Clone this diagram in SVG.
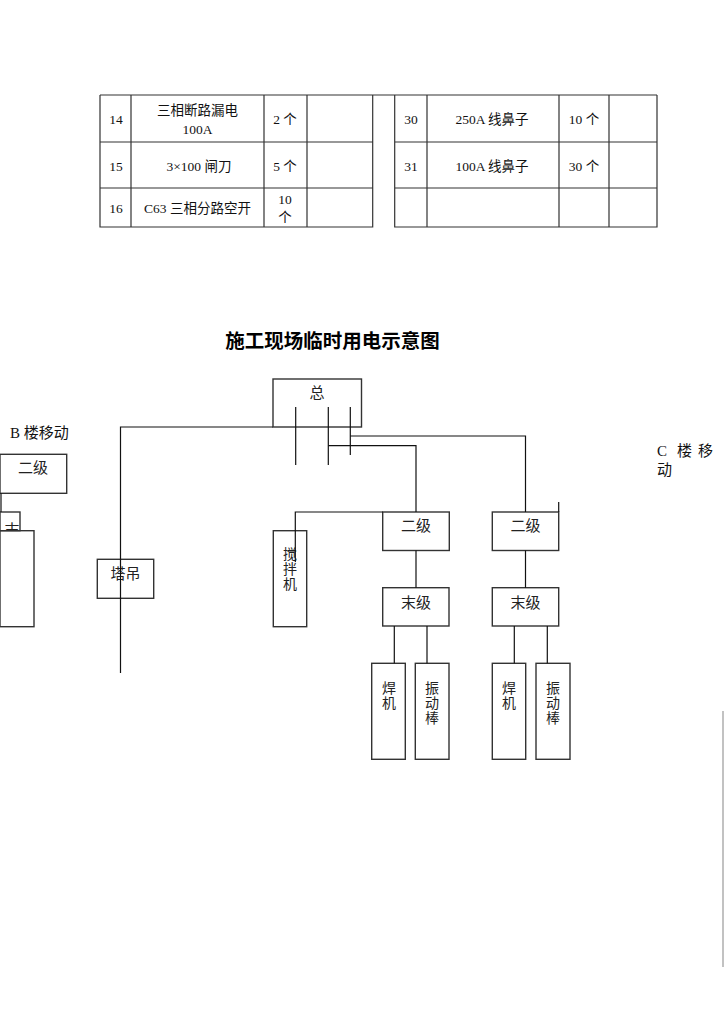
<svg xmlns="http://www.w3.org/2000/svg" width="724" height="1024" viewBox="0 0 724 1024">
<style>
.t{font-family:"Liberation Serif","Noto Sans CJK SC",serif;font-size:13.5px;fill:#111;text-anchor:middle}
.b{font-family:"Noto Sans CJK SC","Liberation Sans",sans-serif;font-size:15px;fill:#222;text-anchor:middle}
.v{font-family:"Noto Sans CJK SC","Liberation Sans",sans-serif;font-size:14px;fill:#222;writing-mode:vertical-rl;letter-spacing:1px}
.tl{stroke:#333;stroke-width:1.2;fill:none}
.box{stroke:#333;stroke-width:1.4;fill:none}
.ln{stroke:#111;stroke-width:1.2;fill:none}
</style>
<defs>
<clipPath id="c1"><rect x="0" y="512" width="20" height="18.7"/></clipPath>
</defs>
<rect width="724" height="1024" fill="#fff"/>
<g id="table">
<line class="tl" x1="100" y1="95" x2="657" y2="95"/>
<path class="tl" d="M100,95V227H372.7V95M131,95V227M264,95V227M307,95V227M100,142H372.7M100,188H372.7"/>
<path class="tl" d="M394.7,95V227H657V95M427,95V227M559,95V227M609,95V227M394.7,142H657M394.7,188H657"/>
<text class="t" x="116" y="124">14</text>
<text class="t" x="197.5" y="115">三相断路漏电</text>
<text class="t" x="197.5" y="134">100A</text>
<text class="t" x="285" y="124">2 个</text>
<text class="t" x="116" y="171">15</text>
<text class="t" x="199" y="171">3×100 闸刀</text>
<text class="t" x="285" y="171">5 个</text>
<text class="t" x="116" y="213">16</text>
<text class="t" x="197.5" y="213">C63 三相分路空开</text>
<text class="t" x="285" y="204">10<tspan x="285" dy="18">个</tspan></text>
<text class="t" x="411" y="124">30</text>
<text class="t" x="492" y="124">250A 线鼻子</text>
<text class="t" x="584" y="124">10 个</text>
<text class="t" x="411" y="171">31</text>
<text class="t" x="492" y="171">100A 线鼻子</text>
<text class="t" x="584" y="171">30 个</text>
</g>
<text x="332.5" y="348" font-family="Noto Sans CJK SC, sans-serif" font-size="19.5" font-weight="bold" text-anchor="middle" fill="#000">施工现场临时用电示意图</text>
<text x="10" y="438" font-family="Liberation Serif, Noto Sans CJK SC, serif" font-size="15" fill="#111">B 楼移动</text>
<text x="657" y="456" font-family="Liberation Serif, Noto Sans CJK SC, serif" font-size="15" fill="#111">C<tspan x="677">楼</tspan><tspan x="698">移</tspan><tspan x="657" dy="19">动</tspan></text>
<g id="n-zong"><rect class="box" x="273" y="379" width="88.5" height="48"/><text class="b" x="317" y="398">总</text></g>
<g id="n-b-erji"><rect class="box" x="0" y="454.3" width="66.7" height="39"/><text class="b" x="33" y="473">二级</text></g>
<g id="n-b-moji"><rect class="box" x="0" y="512" width="20" height="18.7"/><text class="b" x="12" y="535" text-anchor="start" clip-path="url(#c1)">末</text></g>
<g id="n-b-tall"><rect class="box" x="0" y="530.7" width="34" height="96" fill="#fff"/></g>
<g id="n-tadiao"><rect class="box" x="97.3" y="559.3" width="56.4" height="39"/><text class="b" x="125.5" y="579">塔吊</text></g>
<g id="n-jiaoban"><rect class="box" x="273.3" y="530.7" width="33.4" height="96"/><text class="v" x="290" y="547">搅拌机</text></g>
<g id="n-erji1"><rect class="box" x="382.7" y="512" width="66.6" height="38.5"/><text class="b" x="416" y="531">二级</text></g>
<g id="n-erji2"><rect class="box" x="492.3" y="512" width="66.4" height="38.5"/><text class="b" x="525.5" y="531">二级</text></g>
<g id="n-moji1"><rect class="box" x="382.7" y="587.7" width="66.3" height="38.3"/><text class="b" x="416" y="608">末级</text></g>
<g id="n-moji2"><rect class="box" x="492.3" y="587.7" width="66.4" height="38.3"/><text class="b" x="525.5" y="608">末级</text></g>
<g id="n-hanji1"><rect class="box" x="371.7" y="663.3" width="33.6" height="96"/><text class="v" x="389" y="681">焊机</text></g>
<g id="n-zhen1"><rect class="box" x="415.3" y="663.3" width="33.7" height="96"/><text class="v" x="432" y="681">振动棒</text></g>
<g id="n-hanji2"><rect class="box" x="492.3" y="663.3" width="33.4" height="96"/><text class="v" x="509" y="681">焊机</text></g>
<g id="n-zhen2"><rect class="box" x="536" y="663.3" width="34" height="96"/><text class="v" x="553" y="681">振动棒</text></g>
<g id="connectors">
<path class="ln" d="M273,427H120.5V673"/>
<path class="ln" d="M295.7,407V465M328.3,407V465M350.3,407V455"/>
<path class="ln" d="M328.3,445.7H416V512"/>
<path class="ln" d="M350.3,436H525.5V512"/>
<path class="ln" d="M558.7,512V502"/>
<path class="ln" d="M382.7,512H295.3V562"/>
<path class="ln" d="M1,493.3V512"/>
<path class="ln" d="M416,550.5V587.7M525.5,550.5V587.7"/>
<path class="ln" d="M394.3,626V663.3M427,626V663.3M514.3,626V663.3M547.3,626V663.3"/>
</g>
<line x1="723" y1="711" x2="723" y2="967" stroke="#999" stroke-width="1.2"/>
</svg>
